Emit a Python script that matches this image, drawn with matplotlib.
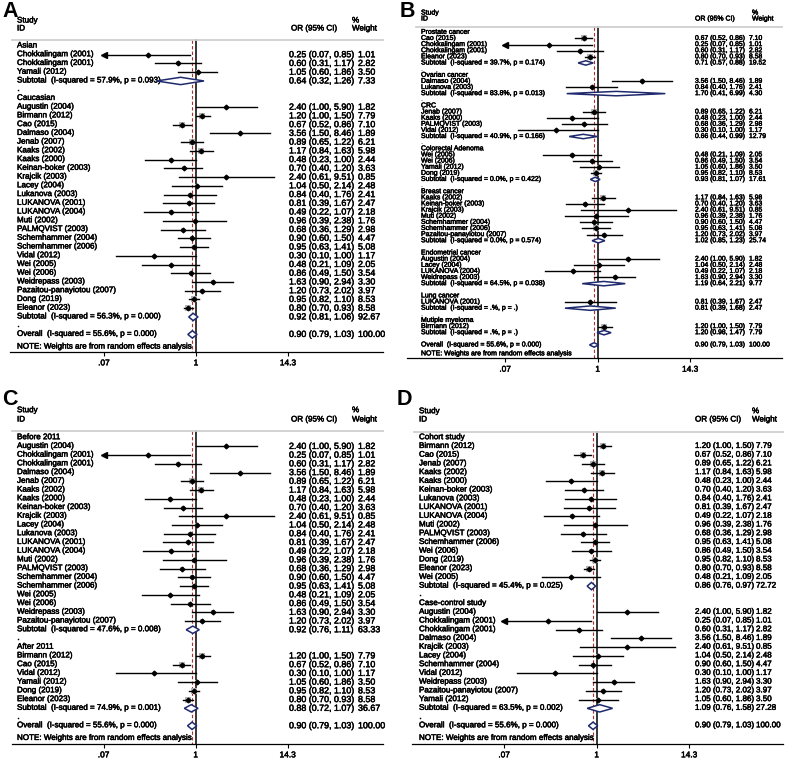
import numpy as np
import matplotlib
matplotlib.use("Agg")
import matplotlib.pyplot as plt
import matplotlib.transforms as mtransforms
import matplotlib.patheffects as pe
from matplotlib.ticker import NullLocator

plt.rcParams['font.family'] = ['Liberation Sans', 'DejaVu Sans']

# study level estimates: OR, 95% CI and % weight (random effects)
study_names = ["Augustin (2004)", "Birmann (2012)", "Cao (2015)", "Chokkalingam (2001)",
               "Chokkalingam (2001)", "Dalmaso (2004)", "Jenab (2007)", "Kaaks (2002)",
               "Kaaks (2000)", "Keinan-boker (2003)", "Krajcik (2003)", "Lacey (2004)",
               "Lukanova (2003)", "LUKANOVA (2001)", "LUKANOVA (2004)", "Muti (2002)",
               "PALMQVIST (2003)", "Schemhammer (2004)", "Schemhammer (2006)", "Vidal (2012)",
               "Wei (2005)", "Wei (2006)", "Weidrepass (2003)", "Pazaitou-panayiotou (2007)",
               "Yamali (2012)", "Dong (2019)", "Eleanor (2023)"]
study_or = [2.40, 1.20, 0.67, 0.25, 0.60, 3.56, 0.89, 1.17, 0.48, 0.70, 2.40, 1.04, 0.84, 0.81,
            0.49, 0.96, 0.68, 0.90, 0.95, 0.30, 0.48, 0.86, 1.63, 1.20, 1.05, 0.95, 0.80]
study_lo = [1.00, 1.00, 0.52, 0.07, 0.31, 1.50, 0.65, 0.84, 0.23, 0.40, 0.61, 0.50, 0.40, 0.39,
            0.22, 0.39, 0.36, 0.60, 0.63, 0.10, 0.21, 0.49, 0.90, 0.73, 0.60, 0.82, 0.70]
study_hi = [5.90, 1.50, 0.86, 0.85, 1.17, 8.46, 1.22, 1.63, 1.00, 1.20, 9.51, 2.14, 1.76, 1.67,
            1.07, 2.38, 1.29, 1.50, 1.41, 1.00, 1.09, 1.50, 2.94, 2.02, 1.86, 1.10, 0.93]
study_wt = [1.82, 7.79, 7.10, 1.01, 2.82, 1.89, 6.21, 5.98, 2.44, 3.63, 0.85, 2.48, 2.41, 2.47,
            2.18, 1.76, 2.98, 4.47, 5.08, 1.17, 2.05, 3.54, 3.30, 3.97, 3.50, 8.53, 8.58]

overall_i2 = "55.6%"
overall_p = "0.000"
overall_est = [0.90, 0.79, 1.03, 100.00]

x_ticks = [0.07, 1, 14.3]
x_ticklabels = [".07", "1", "14.3"]

# A: by ethnicity
a_groups = ["Asian", "Caucasian"]
a_members = [[3, 4, 24],
             [0, 1, 2, 5, 6, 7, 8, 9, 10, 11, 12, 13, 14, 15, 16, 17, 18, 19, 20, 21, 22, 23, 25, 26]]
a_i2 = ["57.9%", "56.3%"]
a_p = ["0.093", "0.000"]
a_sub = [[0.64, 0.32, 1.26, 7.33], [0.92, 0.81, 1.06, 92.67]]

# B: by cancer type
b_groups = ["Prostate cancer", "Ovarian cancer", "CRC", "Colorectal Adenoma", "Breast cancer",
            "Endometrial cancer", "Lung cancer", "Mutiple myeloma"]
b_members = [[2, 3, 4, 26], [5, 12], [6, 8, 16, 19], [20, 21, 24, 25],
             [7, 9, 10, 15, 17, 18, 23], [0, 11, 14, 22], [13], [1]]
b_i2 = ["39.7%", "83.8%", "40.9%", "0.0%", "0.0%", "64.5%", ".%", ".%"]
b_p = ["0.174", "0.013", "0.166", "0.422", "0.574", "0.038", ".", "."]
b_sub = [[0.71, 0.57, 0.88, 19.52], [1.70, 0.41, 6.99, 4.30], [0.66, 0.44, 0.99, 12.79],
         [0.93, 0.81, 1.07, 17.61], [1.02, 0.85, 1.23, 25.74], [1.19, 0.64, 2.21, 9.77],
         [0.81, 0.39, 1.68, 2.47], [1.20, 0.98, 1.47, 7.79]]

# C: by publication year
c_groups = ["Before 2011", "After 2011"]
c_members = [[0, 3, 4, 5, 6, 7, 8, 9, 10, 11, 12, 13, 14, 15, 16, 17, 18, 20, 21, 22, 23],
             [1, 2, 19, 24, 25, 26]]
c_i2 = ["47.6%", "74.9%"]
c_p = ["0.008", "0.001"]
c_sub = [[0.92, 0.76, 1.11, 63.33], [0.88, 0.72, 1.07, 36.67]]

# D: by study design
d_groups = ["Cohort study", "Case-control study"]
d_members = [[1, 2, 6, 7, 8, 9, 12, 13, 14, 15, 16, 18, 21, 25, 26, 20],
             [0, 3, 4, 5, 10, 11, 17, 19, 22, 23, 24]]
d_i2 = ["45.4%", "63.5%"]
d_p = ["0.025", "0.002"]
d_sub = [[0.86, 0.76, 0.97, 72.72], [1.09, 0.76, 1.58, 27.28]]

W, H = 789, 770
fig = plt.figure(figsize=(W / 100, H / 100), dpi=100)

NAVY = "#1f2a6e"
DASH_RED = "#b03030"
BOX_GRAY = "#b4b4b4"
# slight stroke so the small text reads as heavy as the exported original
heavy = [pe.withStroke(linewidth=0.35, foreground="black")]


def draw_panel(letter, lay, groups, members, i2s, ps, subs):
    left, right, top, bottom = lay["box"]
    ax = fig.add_axes([left / W, 1 - bottom / H, (right - left) / W, (bottom - top) / H])
    row0, step = lay["row0"], lay["step"]

    def r(px):
        return (px - row0) / step

    def fx(px):
        return (px - left) / (right - left)

    ax.set_xscale("log")
    ax.set_xlim(np.exp((left - lay["one"]) / lay["scale"]), np.exp((right - lay["one"]) / lay["scale"]))
    ax.set_ylim(r(bottom), r(top))
    tr = mtransforms.blended_transform_factory(ax.transAxes, ax.transData)
    fs, fn = lay["fs"], lay["fn"]
    dh = lay["dh"]

    def txt(xpx, y, s, size):
        ax.text(fx(xpx), y, s, transform=tr, fontsize=size, va="center", path_effects=heavy)

    # header
    txt(lay["lab_x"], r(lay["study_y"]), "Study", fs)
    txt(lay["lab_x"], r(lay["id_y"]), "ID", fs)
    txt(lay["orh_x"], r(lay["id_y"]), "OR (95% CI)", fs)
    txt(lay["pct_x"], r(lay["study_y"]), "%", fs)
    txt(lay["pct_x"], r(lay["id_y"]), "Weight", fs)
    ax.plot([fx(lay["lab_x"] - 5), 1.0], [r(lay["line_y"])] * 2, transform=tr,
            color="#cfcfcf", lw=1.3, clip_on=False)

    def row_text(row, label, est):
        txt(lay["lab_x"], row, label, fs)
        if est is not None:
            txt(lay["or_x"], row, f"{est[0]:.2f} ({est[1]:.2f}, {est[2]:.2f})", fn)
            txt(lay["wt_x"], row, f"{est[3]:.2f}", fn)

    def diamond(row, est):
        ax.fill([est[1], est[0], est[2], est[0]], [row, row - dh, row, row + dh],
                facecolor="white", edgecolor=NAVY, lw=1.1, zorder=5)

    row = 0
    for g, mem, i2, p, sub in zip(groups, members, i2s, ps, subs):
        row_text(row, g, None)
        row += 1
        for k in mem:
            ax.plot([study_lo[k], study_hi[k]], [row, row], color="black", lw=1.0, zorder=3)
            if study_lo[k] <= x_ticks[0]:
                ax.plot(study_lo[k], row, marker="<", ms=3.8, color="black", zorder=3)
            ax.scatter([study_or[k]], [row], s=lay["box_k"] * study_wt[k], marker="s",
                       color=BOX_GRAY, zorder=2, linewidths=0)
            ax.plot(study_or[k], row, marker="D", ms=2.4, color="black", zorder=4)
            row_text(row, study_names[k], [study_or[k], study_lo[k], study_hi[k], study_wt[k]])
            row += 1
        diamond(row, sub)
        row_text(row, f"Subtotal  (I-squared = {i2}, p = {p})", sub)
        row += 1
        row_text(row, ".", None)
        row += 1
    diamond(row, overall_est)
    row_text(row, f"Overall  (I-squared = {overall_i2}, p = {overall_p})", overall_est)
    txt(lay["lab_x"], row + 1.45, "NOTE: Weights are from random effects analysis", fs)

    # null line and pooled estimate line
    y0, y1 = r(lay["line_y"]), r(bottom)
    ax.plot([1, 1], [y0, y1], color="black", lw=1.1, zorder=1)
    ax.plot([overall_est[0]] * 2, [y0, y1], color=DASH_RED, lw=0.8, ls=(0, (3, 2)), zorder=1)

    for s in ["left", "right", "top"]:
        ax.spines[s].set_visible(False)
    ax.spines["bottom"].set_linewidth(0.9)
    ax.set_yticks([])
    ax.set_xticks(x_ticks)
    ax.set_xticklabels(x_ticklabels)
    ax.xaxis.set_minor_locator(NullLocator())
    ax.tick_params(axis="x", direction="out", length=3, width=0.8, labelsize=6, pad=3)
    for t in ax.get_xticklabels():
        t.set_path_effects(heavy)
    ax.patch.set_visible(False)

    fig.text(lay["let_x"] / W, 1 - lay["let_y"] / H, letter, fontsize=15.5, fontweight="bold",
             va="top", ha="left")


lay_a = dict(box=(10, 383, 5, 352), row0=46, step=8.74, one=196, scale=34.6, fs=5.8, fn=6.4,
             lab_x=17, or_x=289, wt_x=358, orh_x=291, pct_x=352, study_y=21, id_y=29,
             line_y=40, dh=0.42, box_k=2.2, let_x=2, let_y=1)
lay_b = dict(box=(407, 782, 5, 358.3), row0=32.3, step=6.13, one=597.7, scale=34.78, fs=5, fn=4.9,
             lab_x=421, or_x=695, wt_x=749, orh_x=695, pct_x=752, study_y=13, id_y=19,
             line_y=27, dh=0.36, box_k=2.6, let_x=400, let_y=1)
lay_c = dict(box=(12, 383, 395, 744), row0=437.7, step=8.73, one=195.7, scale=34.6, fs=5.8, fn=6.4,
             lab_x=17, or_x=289, wt_x=358, orh_x=291, pct_x=352, study_y=410.7, id_y=420,
             line_y=430.7, dh=0.42, box_k=2.2, let_x=2, let_y=389)
lay_d = dict(box=(412, 783, 395, 744), row0=437.7, step=8.73, one=596.7, scale=34.78, fs=5.8, fn=5.8,
             lab_x=419, or_x=695, wt_x=756, orh_x=695, pct_x=752, study_y=411.7, id_y=420,
             line_y=431.7, dh=0.42, box_k=2.2, let_x=397, let_y=389)

draw_panel("A", lay_a, a_groups, a_members, a_i2, a_p, a_sub)
draw_panel("B", lay_b, b_groups, b_members, b_i2, b_p, b_sub)
draw_panel("C", lay_c, c_groups, c_members, c_i2, c_p, c_sub)
draw_panel("D", lay_d, d_groups, d_members, d_i2, d_p, d_sub)

fig.savefig("out.png", dpi=100)
